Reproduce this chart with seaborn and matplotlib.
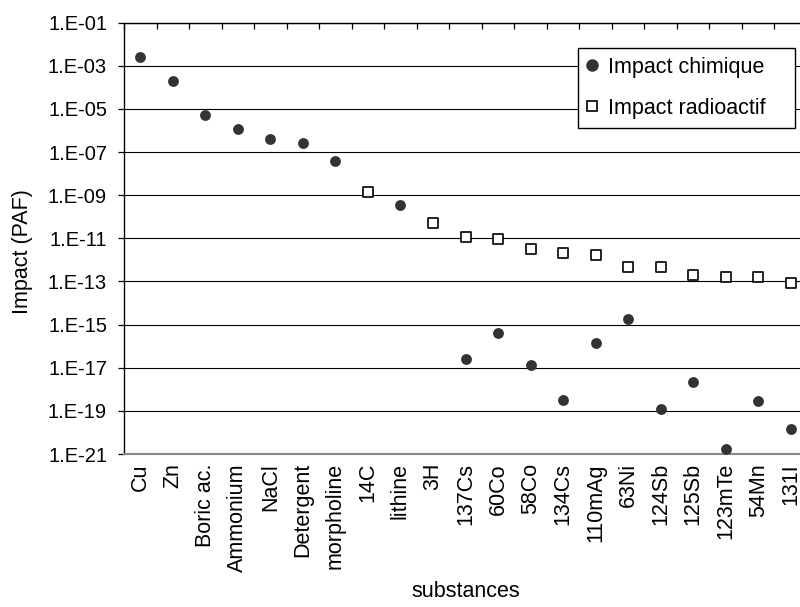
import numpy as np
import pandas as pd
import matplotlib
matplotlib.use("Agg")
import matplotlib.pyplot as plt
from matplotlib.lines import Line2D
from matplotlib.ticker import FixedLocator, NullLocator
import seaborn as sns

# ---- data ----
substances = ["Cu", "Zn", "Boric ac.", "Ammonium", "NaCl", "Detergent", "morpholine",
              "14C", "lithine", "3H", "137Cs", "60Co", "58Co", "134Cs", "110mAg",
              "63Ni", "124Sb", "125Sb", "123mTe", "54Mn", "131I"]

chem_substances = ["Cu", "Zn", "Boric ac.", "Ammonium", "NaCl", "Detergent", "morpholine",
                   "lithine", "137Cs", "60Co", "58Co", "134Cs", "110mAg", "63Ni",
                   "124Sb", "125Sb", "123mTe", "54Mn", "131I"]
chem_values = [2.5e-3, 2.0e-4, 5.2e-6, 1.2e-6, 4.0e-7, 2.6e-7, 3.8e-8,
               3.5e-10, 2.6e-17, 4.0e-16, 1.35e-17, 3.3e-19, 1.4e-16, 1.8e-15,
               1.2e-19, 2.3e-18, 1.7e-21, 2.8e-19, 1.45e-20]

radio_substances = ["14C", "3H", "137Cs", "60Co", "58Co", "134Cs", "110mAg", "63Ni",
                    "124Sb", "125Sb", "123mTe", "54Mn", "131I"]
radio_values = [1.4e-9, 5.2e-11, 1.1e-11, 9.6e-12, 3.3e-12, 2.1e-12, 1.7e-12,
                4.6e-13, 4.6e-13, 2.0e-13, 1.6e-13, 1.6e-13, 8.7e-14]

ytick_exponents = list(range(1, 22, 2))
series_labels = ["Impact chimique", "Impact radioactif"]

# ---- style ----
sns.set_style("white")
plt.rcParams["font.family"] = ["Liberation Sans", "DejaVu Sans"]
plt.rcParams["text.color"] = "black"
plt.rcParams["axes.labelcolor"] = "black"
plt.rcParams["xtick.color"] = "black"
plt.rcParams["ytick.color"] = "black"

chem_df = pd.DataFrame({"substance": chem_substances, "impact": chem_values})
radio_df = pd.DataFrame({"substance": radio_substances, "impact": radio_values})

fig = plt.figure(figsize=(8, 6.07), dpi=100)
ax = fig.add_axes([124 / 800, 1 - 454 / 607, 683 / 800, 431.3 / 607])

sns.stripplot(data=chem_df, x="substance", y="impact", order=substances, jitter=False,
              marker="o", color="#333333", size=7.8, linewidth=0, ax=ax, zorder=3)
sns.stripplot(data=radio_df, x="substance", y="impact", order=substances, jitter=False,
              marker="s", color="white", edgecolor="black", linewidth=1.2, size=6.6,
              ax=ax, zorder=4)

ax.set_yscale("log")
ax.set_ylim(10.0 ** -21, 10.0 ** -1)
ax.set_xlim(-0.5, len(substances) - 0.5)
ax.yaxis.set_major_locator(FixedLocator([10.0 ** -k for k in ytick_exponents]))
ax.set_yticklabels([f"1.E-{k:02d}" for k in ytick_exponents])
ax.yaxis.set_minor_locator(NullLocator())

ax.set_xticks(range(len(substances)))
ax.set_xticklabels(substances, rotation=90, va="top", ha="center")
ax.xaxis.set_minor_locator(FixedLocator(np.arange(-0.5, len(substances), 1.0)))

ax.tick_params(axis="y", which="major", left=True, direction="out", length=4.2,
               width=0.9, pad=8, labelsize=14.5)
ax.tick_params(axis="x", which="major", bottom=False, top=False, length=0, pad=6.5,
               labelsize=15.5)
ax.tick_params(axis="x", which="minor", top=True, bottom=False, direction="in",
               length=4.2, width=0.9)

ax.yaxis.grid(True, which="major", color="black", linewidth=0.8)
ax.xaxis.grid(False)
ax.set_axisbelow(True)

for side in ["left", "top"]:
    ax.spines[side].set_color("black")
    ax.spines[side].set_linewidth(1.0)
ax.spines["right"].set_visible(False)
ax.spines["bottom"].set_color("#888888")
ax.spines["bottom"].set_linewidth(1.5)

ax.set_ylabel("Impact (PAF)", fontsize=15.5)
ax.yaxis.set_label_coords(-0.133, 0.47)
ax.set_xlabel("substances", fontsize=15.5, va="top")
ax.xaxis.set_label_coords(0.5, -0.295)

handles = [
    Line2D([], [], marker="o", linestyle="none", color="#333333", markersize=8.0),
    Line2D([], [], marker="s", linestyle="none", markerfacecolor="white",
           markeredgecolor="black", markeredgewidth=1.2, markersize=6.8),
]
leg = ax.legend(handles, series_labels, loc="upper left",
                bbox_to_anchor=(577.7 / 800, 1 - 47.7 / 607, (795 - 577.7) / 800, 0.0),
                bbox_transform=fig.transFigure, mode="expand", frameon=True,
                fancybox=False, edgecolor="black", framealpha=1, borderpad=0.42,
                handlelength=0.5, handletextpad=0.5, labelspacing=0.92,
                fontsize=15.5, borderaxespad=0)
leg.get_frame().set_linewidth(1.0)
leg.set_zorder(10)

fig.savefig("out.png", dpi=100)
